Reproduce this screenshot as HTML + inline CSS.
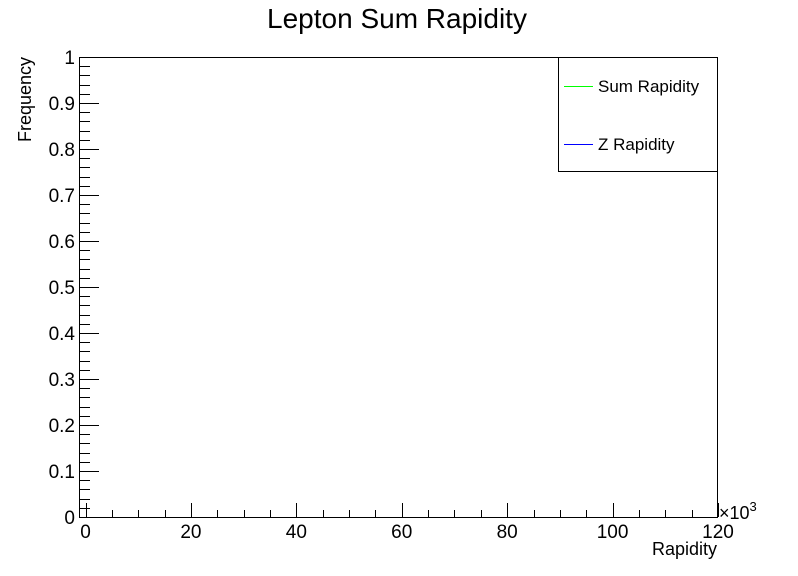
<!DOCTYPE html>
<html><head><meta charset="utf-8"><style>
body{margin:0;background:#fff;}
svg{display:block;font-family:"Liberation Sans",sans-serif;}
</style></head><body>
<svg id="c" width="798" height="576" viewBox="0 0 798 576">
<text x="397" y="28" font-size="28" text-anchor="middle">Lepton Sum Rapidity</text>
<rect x="79.5" y="57.5" width="638" height="460" fill="none" stroke="#000" stroke-width="1"/>
<g id="ax"></g>
<text x="717" y="555" font-size="18" text-anchor="end">Rapidity</text>
<text transform="translate(31,57) rotate(-90)" font-size="18" text-anchor="end">Frequency</text>
<text x="719" y="519" font-size="18">×10<tspan dy="-8" font-size="13">3</tspan></text>
<g>
<rect x="558.5" y="57.5" width="159" height="114" fill="#fff" stroke="#000"/>
<line x1="564" y1="86.5" x2="593" y2="86.5" stroke="#00ff00"/>
<text x="598" y="92" font-size="17">Sum Rapidity</text>
<line x1="564" y1="144.5" x2="593" y2="144.5" stroke="#0000ff"/>
<text x="598" y="150" font-size="17">Z Rapidity</text>
</g>
</svg>
<script>
const xTicks=[0,20,40,60,80,100,120];
const yTicks=[0,0.1,0.2,0.3,0.4,0.5,0.6,0.7,0.8,0.9,1];
const yLabels=["0","0.1","0.2","0.3","0.4","0.5","0.6","0.7","0.8","0.9","1"];
const sumRapidity=[];
const zRapidity=[];
const NS="http://www.w3.org/2000/svg";
const X=v=>85.5+v*(718-85.5)/120;
const Y=v=>517-v*460;
const g=document.getElementById('ax');
function ln(x1,y1,x2,y2,name){const l=document.createElementNS(NS,'line');l.setAttribute('x1',x1);l.setAttribute('y1',y1);l.setAttribute('x2',x2);l.setAttribute('y2',y2);l.setAttribute('stroke','#000');


g.appendChild(l);}
function tx(x,y,s,anc,name){const t=document.createElementNS(NS,'text');t.setAttribute('x',x);t.setAttribute('y',y);t.setAttribute('font-size','19');t.setAttribute('text-anchor',anc);t.textContent=s;


g.appendChild(t);}
for(let v=0;v<=120;v+=5){const maj=v%20===0;const x=Math.round(X(v))+0.5;ln(x,517,x,517-(maj?14:7),maj?'x-major-tick':'x-minor-tick');}
xTicks.forEach(v=>tx(X(v),538,String(v),'middle','x-tick-label'));
for(let i=0;i<=50;i++){const v=i*0.02;const maj=i%5===0;const y=Math.round(Y(v))+0.5;ln(80,y,80+(maj?19:10),y,maj?'y-major-tick':'y-minor-tick');}
yTicks.forEach((v,i)=>tx(75,Y(v)+7,yLabels[i],'end','y-tick-label'));
</script>
</body></html>
